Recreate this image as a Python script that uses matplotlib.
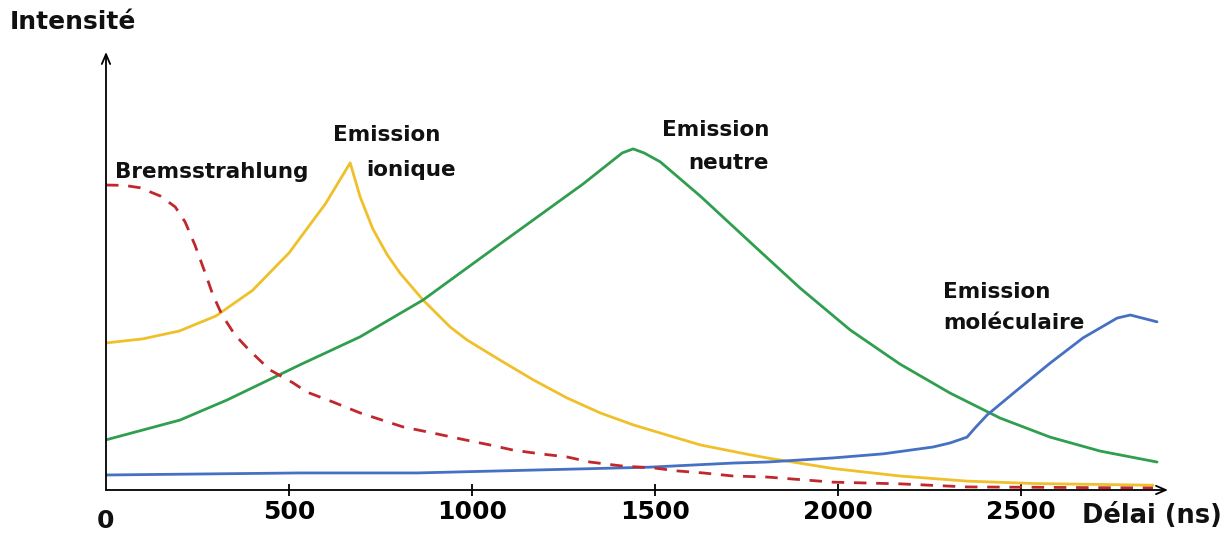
from matplotlib import pyplot as plt

import numpy as np

# delay (ns) / intensity (a.u.) for each emission regime
brems_t = [0, 50, 93, 148, 189, 216, 243, 270, 292, 317, 352, 393, 448, 511, 549, 620,
           694, 811, 893, 967, 1049, 1112, 1186, 1259, 1322, 1412, 1494, 1560, 1631,
           1713, 1806, 1986, 2169, 2352, 2860]
brems_i = [89.4, 89.3, 88.6, 86.2, 83.0, 78.6, 71.8, 63.9, 57.2, 51.3, 45.5, 40.8, 35.2,
           31.4, 28.7, 25.8, 22.6, 18.5, 16.7, 15.0, 13.2, 11.7, 10.6, 9.7, 8.2, 7.0,
           6.5, 5.6, 5.0, 4.1, 3.8, 2.3, 1.8, 0.9, 0.6]

ion_t = [0, 100, 200, 300, 400, 500, 600, 667, 694, 729, 768, 803, 866, 940, 986, 1076,
         1167, 1259, 1350, 1440, 1533, 1624, 1751, 1806, 1986, 2169, 2352, 2533, 2860]
ion_i = [43.1, 44.3, 46.6, 51.0, 58.5, 69.5, 84.0, 95.9, 86.0, 76.5, 69.0, 63.6, 55.7,
         47.8, 44.0, 38.1, 32.3, 27.0, 22.6, 19.1, 16.1, 13.2, 10.5, 9.4, 6.3, 4.1, 2.6,
         1.9, 1.4]

neutral_t = [0, 202, 331, 530, 694, 866, 1076, 1303, 1410, 1440, 1470, 1514, 1623, 1759,
             1896, 2033, 2169, 2306, 2442, 2579, 2716, 2871]
neutral_i = [14.7, 20.5, 26.4, 36.7, 44.9, 55.7, 72.1, 89.7, 98.8, 100.0, 98.8, 96.2,
             86.2, 72.7, 59.2, 46.9, 36.9, 28.4, 21.1, 15.5, 11.4, 8.2]

mol_t = [0, 530, 850, 1076, 1303, 1486, 1713, 1806, 1986, 2123, 2259, 2306, 2352, 2374,
         2407, 2489, 2579, 2669, 2762, 2798, 2871]
mol_i = [4.4, 5.0, 5.0, 5.6, 6.2, 6.7, 7.9, 8.2, 9.4, 10.6, 12.6, 13.8, 15.5, 18.2, 22.0,
         29.3, 37.2, 44.6, 50.4, 51.3, 49.3]

tick_pos = [500, 1000, 1500, 2000, 2500]
tick_lab = ['500', '1000', '1500', '2000', '2500']

x_max, y_max = 2901, 128.4

fig = plt.figure(figsize=(12.28, 5.38), dpi=100)
ax = fig.add_axes([106 / 1228, 48 / 538, 1062 / 1228, 438 / 538])
ax.set_xlim(0, x_max)
ax.set_ylim(0, y_max)

lw = 2.0
ax.plot(ion_t, ion_i, color='#f0c02a', lw=lw, solid_capstyle='round', solid_joinstyle='round')
ax.plot(neutral_t, neutral_i, color='#2f9e4e', lw=lw, solid_capstyle='round', solid_joinstyle='round')
ax.plot(mol_t, mol_i, color='#4670c2', lw=lw, solid_capstyle='round', solid_joinstyle='round')
ax.plot(brems_t, brems_i, color='#c0282d', lw=lw, dashes=(4.5, 3.5))

# bare axes drawn as arrows
for s in ax.spines.values():
    s.set_visible(False)
arrow = dict(arrowstyle='->,head_length=0.7,head_width=0.3', lw=1.3, color='black',
             shrinkA=0, shrinkB=0)
ax.annotate('', xy=(1, 0), xytext=(0, 0), xycoords='axes fraction', arrowprops=arrow)
ax.annotate('', xy=(0, 1), xytext=(0, 0), xycoords='axes fraction', arrowprops=arrow)

ax.set_yticks([])
ax.set_xticks(tick_pos, tick_lab)
ax.tick_params(axis='x', direction='inout', length=9, width=1.3, pad=3,
               labelsize=18)
for t in ax.get_xticklabels():
    t.set_fontweight('bold')

font = dict(family='DejaVu Sans', weight='bold', color='#111111')
ax.text(0, -9.1, '0', ha='center', va='center', fontsize=18, **font)
ax.text(2667, -7.6, 'Délai (ns)', ha='left', va='center', fontsize=18.5, **font)
ax.text(-262, 137.2, 'Intensité', ha='left', va='center', fontsize=18, **font)

# curve names
labels = [('Bremsstrahlung', 25, 93.3), ('Emission', 620, 104.1), ('ionique', 710, 93.8),
          ('Emission', 1519, 105.6), ('neutre', 1590, 95.9),
          ('Emission', 2287, 58.1), ('moléculaire', 2287, 49.0)]
for txt, x, y in labels:
    ax.text(x, y, txt, ha='left', va='center', fontsize=15.5, **font)

fig.savefig('out.png', dpi=100)
